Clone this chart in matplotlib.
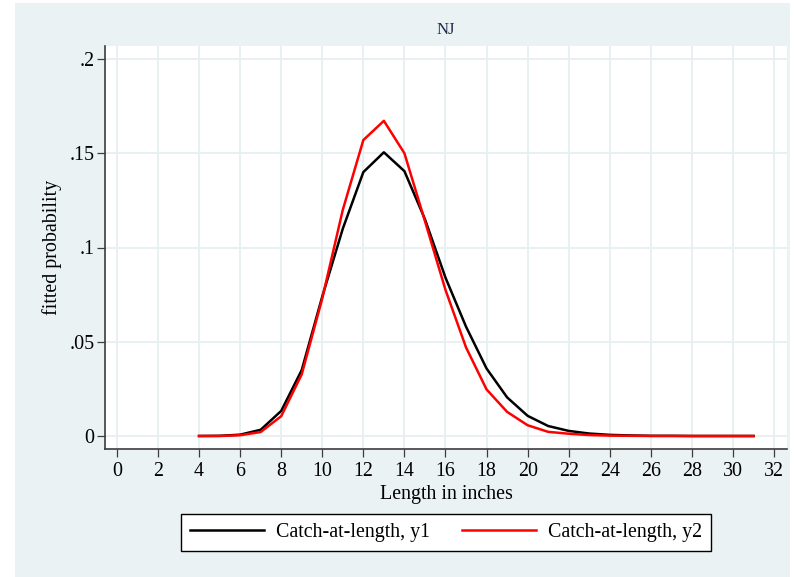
import matplotlib
matplotlib.use("Agg")
import matplotlib.pyplot as plt
from matplotlib.patches import Rectangle

# lengths (inches) and fitted probabilities
lengths = [4, 5, 6, 7, 8, 9, 10, 11, 12, 13, 14, 15, 16, 17,
           18, 19, 20, 21, 22, 23, 24, 25, 26, 27, 28, 29, 30, 31]
y1 = [0.0000, 0.0001, 0.0007, 0.0033, 0.0133, 0.0350, 0.0740, 0.1100, 0.1400, 0.1505,
      0.1405, 0.1150, 0.0840, 0.0580, 0.0358, 0.0205, 0.0107, 0.0053, 0.0027, 0.0013,
      0.0006, 0.0003, 0.0001, 0.0001, 0.0000, 0.0000, 0.0000, 0.0000]
y2 = [0.0000, 0.0000, 0.0004, 0.0021, 0.0105, 0.0327, 0.0730, 0.1200, 0.1570, 0.1672,
      0.1500, 0.1140, 0.0775, 0.0470, 0.0247, 0.0128, 0.0057, 0.0022, 0.0012, 0.0005,
      0.0002, 0.0001, 0.0000, 0.0000, 0.0000, 0.0000, 0.0000, 0.0000]
xticks = list(range(0, 33, 2))
yticks = [0, 0.05, 0.1, 0.15, 0.2]
ytick_labels = ["0", ".05", ".1", ".15", ".2"]

bg = "#EAF2F3"
grid_col = "#E6EFF1"
axis_col = "#3C3C3C"

plt.rcParams['font.family'] = ['Liberation Serif', 'DejaVu Serif']

fig = plt.figure(figsize=(7.96, 5.77), dpi=100, facecolor="white")
# stata-like outer region, kept behind the axes
fig.patches.append(Rectangle((15 / 796, 0), (790 - 15) / 796, 1 - 3 / 577,
                             transform=fig.transFigure, facecolor=bg,
                             edgecolor="none", zorder=-10))

ax = fig.add_axes([105 / 796, 1 - 449 / 577, (787 - 105) / 796, (449 - 46) / 577])
ax.set_facecolor("white")

ax.plot(lengths, y1, color="black", lw=1.8, label="Catch-at-length, y1", zorder=3)
ax.plot(lengths, y2, color="#FF0000", lw=1.8, label="Catch-at-length, y2", zorder=4)

ax.set_xlim(-0.58, 32.63)
ax.set_ylim(-0.0069, 0.2069)
ax.set_xticks(xticks)
ax.set_yticks(yticks)
ax.set_yticklabels(ytick_labels)

ax.grid(True, color=grid_col, lw=1.3, zorder=0)
ax.set_axisbelow(True)

for s in ["top", "right"]:
    ax.spines[s].set_visible(False)
for s in ["left", "bottom"]:
    ax.spines[s].set_color(axis_col)
    ax.spines[s].set_linewidth(1.2)

ax.tick_params(axis="both", direction="out", length=5.5, width=0.9,
               color=axis_col, labelsize=14.4, labelcolor="black")
ax.tick_params(axis="x", pad=4)
ax.tick_params(axis="y", pad=2)

ax.set_xlabel("Length in inches", fontsize=14.4, labelpad=3)
ax.set_ylabel("fitted probability", fontsize=14.4, labelpad=5.5)

fig.text(446 / 796, 1 - 30 / 577, "NJ", ha="center", va="center",
         fontsize=12, color="#1E2A4A")

leg = fig.legend(loc="center", bbox_to_anchor=(0.5603, 1 - 532.5 / 577), ncol=2,
                 fontsize=14.4, frameon=True, fancybox=False, handlelength=3.7,
                 handletextpad=0.6, columnspacing=1.6, borderpad=0.45,
                 borderaxespad=0)
leg.get_frame().set_edgecolor("black")
leg.get_frame().set_linewidth(1.0)
leg.get_frame().set_facecolor("white")
leg.get_frame().set_alpha(1)

fig.savefig("out.png", dpi=100, facecolor="white")
